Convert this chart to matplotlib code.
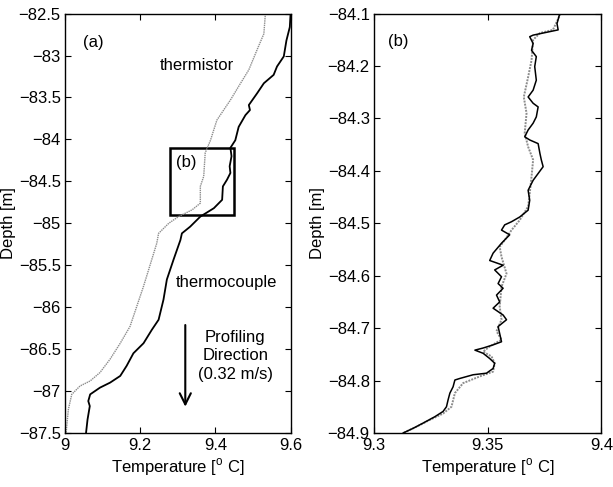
import numpy as np
import matplotlib
matplotlib.use('Agg')
import matplotlib.pyplot as plt

plt.rcParams['font.family'] = ['Liberation Sans', 'DejaVu Sans']
plt.rcParams['mathtext.fontset'] = 'custom'
plt.rcParams['mathtext.rm'] = 'Liberation Sans'
plt.rcParams['font.size'] = 12

# panel (a): full profile
a_tc_temp = [9.600, 9.598, 9.589, 9.582, 9.564, 9.555, 9.529, 9.511, 9.489, 9.492, 9.480, 9.462,
             9.453, 9.440, 9.443, 9.438, 9.440, 9.431, 9.420, 9.418, 9.396, 9.378, 9.360, 9.333,
             9.311, 9.307, 9.289, 9.271, 9.262, 9.249, 9.231, 9.209, 9.182, 9.164, 9.147, 9.120,
             9.093, 9.067, 9.062, 9.066, 9.060, 9.056]
a_tc_depth = [-82.50, -82.66, -82.82, -83.01, -83.13, -83.23, -83.33, -83.45, -83.59, -83.65, -83.71, -83.85,
              -84.01, -84.10, -84.20, -84.32, -84.40, -84.48, -84.56, -84.72, -84.82, -84.87, -84.92, -85.04,
              -85.12, -85.20, -85.43, -85.67, -85.91, -86.15, -86.27, -86.43, -86.55, -86.70, -86.82, -86.90,
              -86.96, -87.04, -87.12, -87.18, -87.34, -87.50]

a_th_temp = [9.533, 9.529, 9.511, 9.489, 9.467, 9.440, 9.422, 9.404, 9.387, 9.373, 9.369, 9.360,
             9.360, 9.338, 9.302, 9.276, 9.249, 9.244, 9.231, 9.209, 9.191, 9.173, 9.147, 9.120,
             9.093, 9.067, 9.040, 9.018, 9.009, 9.003]
a_th_depth = [-82.50, -82.74, -82.93, -83.17, -83.33, -83.53, -83.65, -83.77, -84.01, -84.16, -84.44, -84.56,
              -84.76, -84.84, -84.92, -85.00, -85.12, -85.24, -85.43, -85.75, -85.99, -86.23, -86.43, -86.62,
              -86.78, -86.88, -86.94, -87.04, -87.22, -87.50]

# panel (b): zoom of the box
b_tc_temp = [9.3817, 9.3805, 9.3810, 9.3700, 9.3685, 9.3700, 9.3693, 9.3714, 9.3707, 9.3714, 9.3700,
             9.3678, 9.3700, 9.3722, 9.3714, 9.3700, 9.3678, 9.3663, 9.3685, 9.3722, 9.3730, 9.3736,
             9.3744, 9.3722, 9.3700, 9.3678, 9.3685, 9.3678, 9.3641, 9.3605, 9.3575, 9.3561, 9.3597,
             9.3561, 9.3524, 9.3509, 9.3568, 9.3531, 9.3561, 9.3546, 9.3568, 9.3539, 9.3553, 9.3524,
             9.3568, 9.3583, 9.3546, 9.3561, 9.3524, 9.3480, 9.3444, 9.3480, 9.3509, 9.3531, 9.3524,
             9.3495, 9.3436, 9.3378, 9.3356, 9.3348, 9.3334, 9.3326, 9.3319, 9.3304, 9.3268, 9.3217,
             9.3173, 9.3129]
b_tc_depth = [-84.100, -84.119, -84.131, -84.141, -84.144, -84.157, -84.170, -84.182, -84.201, -84.227, -84.246,
              -84.259, -84.271, -84.278, -84.297, -84.309, -84.322, -84.335, -84.341, -84.348, -84.367, -84.379,
              -84.392, -84.405, -84.418, -84.437, -84.456, -84.475, -84.488, -84.497, -84.503, -84.513, -84.522,
              -84.538, -84.557, -84.571, -84.580, -84.589, -84.602, -84.615, -84.624, -84.637, -84.650, -84.662,
              -84.675, -84.684, -84.697, -84.726, -84.732, -84.738, -84.742, -84.748, -84.758, -84.767, -84.777,
              -84.786, -84.789, -84.796, -84.799, -84.812, -84.824, -84.837, -84.850, -84.859, -84.869, -84.881,
              -84.891, -84.900]

b_th_temp = [9.3821, 9.3787, 9.3730, 9.3700, 9.3693, 9.3678, 9.3659, 9.3671, 9.3663, 9.3678, 9.3700,
             9.3693, 9.3685, 9.3678, 9.3641, 9.3605, 9.3575, 9.3553, 9.3561, 9.3583, 9.3561, 9.3553,
             9.3561, 9.3539, 9.3561, 9.3509, 9.3480, 9.3517, 9.3531, 9.3524, 9.3466, 9.3392, 9.3356,
             9.3341, 9.3304, 9.3246, 9.3188, 9.3129]
b_th_depth = [-84.100, -84.131, -84.137, -84.150, -84.189, -84.221, -84.259, -84.290, -84.328, -84.354, -84.379,
              -84.411, -84.443, -84.468, -84.494, -84.513, -84.532, -84.545, -84.564, -84.596, -84.621, -84.659,
              -84.684, -84.706, -84.722, -84.735, -84.745, -84.754, -84.767, -84.783, -84.792, -84.805, -84.824,
              -84.850, -84.863, -84.875, -84.888, -84.900]

box_temp = [9.28, 9.45]
box_depth = [-84.9, -84.1]

fig = plt.figure(figsize=(6.13, 4.87), dpi=100)
ax1 = fig.add_axes([0.106, 0.111, 0.368, 0.861])
ax2 = fig.add_axes([0.610, 0.111, 0.371, 0.861])

gray = '#8c8c8c'
for ax in (ax1, ax2):
    ax.tick_params(direction='in', top=True, right=True, length=4, width=0.8, labelsize=12, pad=3)
    ax.tick_params(axis='x', pad=4)
    for s in ax.spines.values():
        s.set_linewidth(1.0)

# (a)
ax1.plot(a_th_temp, a_th_depth, color=gray, lw=1.0, ls=(0, (1, 0.6)))
ax1.plot(a_tc_temp, a_tc_depth, color='black', lw=1.3)
ax1.add_patch(plt.Rectangle((box_temp[0], box_depth[0]), box_temp[1] - box_temp[0],
                            box_depth[1] - box_depth[0], fill=False, lw=1.8, ec='black'))
ax1.set_xlim(9, 9.6)
ax1.set_ylim(-87.5, -82.5)
ax1.set_xticks([9, 9.2, 9.4, 9.6])
ax1.set_xticklabels(['9', '9.2', '9.4', '9.6'])
ax1.set_yticks(np.arange(-87.5, -82.4, 0.5))
ax1.set_yticklabels(['\u221287.5', '\u221287', '\u221286.5', '\u221286', '\u221285.5', '\u221285',
                     '\u221284.5', '\u221284', '\u221283.5', '\u221283', '\u221282.5'])
ax1.set_xlabel('Temperature [$^\\mathrm{o}$ C]', fontsize=12, labelpad=2)
ax1.set_ylabel('Depth [m]', fontsize=12, labelpad=2)
ax1.text(9.048, -82.84, '(a)', fontsize=12, va='center')
ax1.text(9.35, -83.12, 'thermistor', fontsize=12, ha='center', va='center')
ax1.text(9.296, -84.28, '(b)', fontsize=12, va='center')
ax1.text(9.43, -85.71, 'thermocouple', fontsize=12, ha='center', va='center')
ax1.text(9.453, -86.58, 'Profiling\nDirection\n(0.32 m/s)', fontsize=12, ha='center', va='center',
         linespacing=1.3)
ax1.annotate('', xy=(9.32, -87.22), xytext=(9.32, -86.18),
             arrowprops=dict(arrowstyle='->', lw=1.5, color='black', mutation_scale=20))

# (b)
ax2.plot(b_th_temp, b_th_depth, color=gray, lw=1.4, ls=(0, (1, 0.6)))
ax2.plot(b_tc_temp, b_tc_depth, color='black', lw=1.1)
ax2.set_xlim(9.3, 9.4)
ax2.set_ylim(-84.9, -84.1)
ax2.set_xticks([9.3, 9.35, 9.4])
ax2.set_xticklabels(['9.3', '9.35', '9.4'])
ax2.set_yticks(np.linspace(-84.9, -84.1, 9))
ax2.set_yticklabels(['\u221284.9', '\u221284.8', '\u221284.7', '\u221284.6', '\u221284.5',
                     '\u221284.4', '\u221284.3', '\u221284.2', '\u221284.1'])
ax2.set_xlabel('Temperature [$^\\mathrm{o}$ C]', fontsize=12, labelpad=2)
ax2.set_ylabel('Depth [m]', fontsize=12, labelpad=2)
ax2.text(9.306, -84.154, '(b)', fontsize=12, va='center')

fig.savefig('out.png', dpi=100)
